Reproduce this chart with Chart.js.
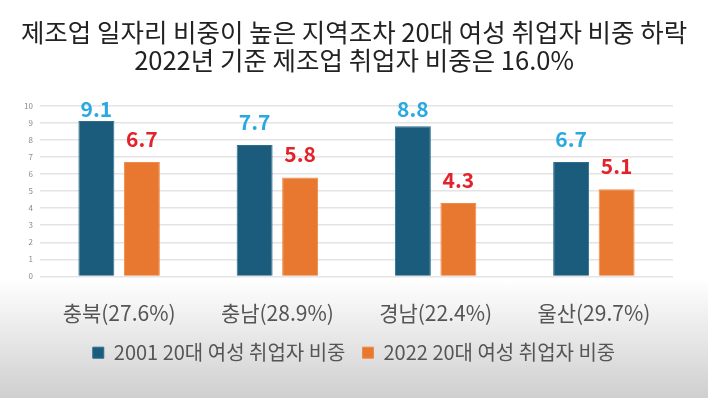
<!DOCTYPE html>
<html><head><meta charset="utf-8">
<script src="https://cdn.jsdelivr.net/npm/chart.js@4/dist/chart.umd.min.js"></script>
<style>
html,body{margin:0;padding:0;width:708px;height:398px;overflow:hidden;
background:linear-gradient(to bottom,#ffffff 0%,#ffffff 70%,#cfcfcf 100%);}
#wrap{position:absolute;left:0;top:0;width:708px;height:398px;}
</style></head>
<body><div id="wrap"><canvas id="c" width="708" height="398"></canvas></div>
<script>
const titleLines = ['제조업 일자리 비중이 높은 지역조차 20대 여성 취업자 비중 하락', '2022년 기준 제조업 취업자 비중은 16.0%'];
const categories = ['충북(27.6%)', '충남(28.9%)', '경남(22.4%)', '울산(29.7%)'];
const seriesNames = ['2001 20대 여성 취업자 비중', '2022 20대 여성 취업자 비중'];
const values2001 = [9.1, 7.7, 8.8, 6.7];
const values2022 = [6.7, 5.8, 4.3, 5.1];
const yTicks = [0,1,2,3,4,5,6,7,8,9,10];

const FONT = "'Noto Sans CJK KR', 'Noto Sans', sans-serif";
const barColors = ['#1b5c7c', '#e8772f'];
const labelColors = ['#2aa8e0', '#e3232b'];

const valueLabels = {
  id: 'valueLabels',
  afterDatasetsDraw(chart) {
    const ctx = chart.ctx;
    const top = chart.chartArea.top;
    ctx.save();
    ctx.font = "bold 21px " + FONT;
    ctx.textAlign = 'center';
    ctx.textBaseline = 'alphabetic';
    chart.data.datasets.forEach((ds, di) => {
      const meta = chart.getDatasetMeta(di);
      ctx.fillStyle = labelColors[di];
      meta.data.forEach((el, i) => {
        const y = Math.max(el.y - 15, top + 11);
        ctx.fillText(ds.data[i].toFixed(1), el.x, y);
      });
    });
    ctx.restore();
  }
};

new Chart(document.getElementById('c'), {
  type: 'bar',
  data: {
    labels: categories,
    datasets: [
      { label: seriesNames[0], data: values2001, backgroundColor: barColors[0], borderColor: '#2c6e8e', borderWidth: 1,
        categoryPercentage: 0.575, barPercentage: 0.79 },
      { label: seriesNames[1], data: values2022, backgroundColor: barColors[1], borderColor: '#f08a45', borderWidth: 1,
        categoryPercentage: 0.575, barPercentage: 0.79 }
    ]
  },
  options: {
    responsive: false,
    animation: false,
    devicePixelRatio: 1,
    layout: { padding: { left: 0, right: 0, top: 0, bottom: 25.3 } },
    plugins: {
      title: {
        display: true,
        text: titleLines,
        color: '#222222',
        font: { family: FONT, size: 25.5, weight: 'normal', lineHeight: 1.1 },
        padding: { top: 18, bottom: 31.6 }
      },
      legend: {
        display: true,
        position: 'bottom',
        labels: {
          color: '#555555',
          font: { family: FONT, size: 20 },
          boxWidth: 11, boxHeight: 11,
          padding: 17
        }
      },
      tooltip: { enabled: false }
    },
    scales: {
      x: {
        grid: { display: false, drawTicks: false },
        border: { display: false },
        ticks: { color: '#555555', font: { family: FONT, size: 21 }, padding: 24 },
        afterFit(s) { s.height = 49.3; }
      },
      y: {
        min: 0, max: 10,
        afterBuildTicks(s) { s.ticks = yTicks.map(v => ({ value: v })); },
        grid: { color: '#e4e4e4', lineWidth: 1.5, drawTicks: false },
        border: { display: false },
        ticks: { color: '#8a8a8a', font: { family: FONT, size: 8 }, padding: 7 },
        afterFit(s) { s.width = 40; }
      },
      yRight: {
        position: 'right',
        min: 0, max: 10,
        grid: { display: false, drawTicks: false },
        border: { display: false },
        ticks: { display: false },
        afterFit(s) { s.width = 35; }
      }
    }
  },
  plugins: [valueLabels]
});
</script></body></html>
